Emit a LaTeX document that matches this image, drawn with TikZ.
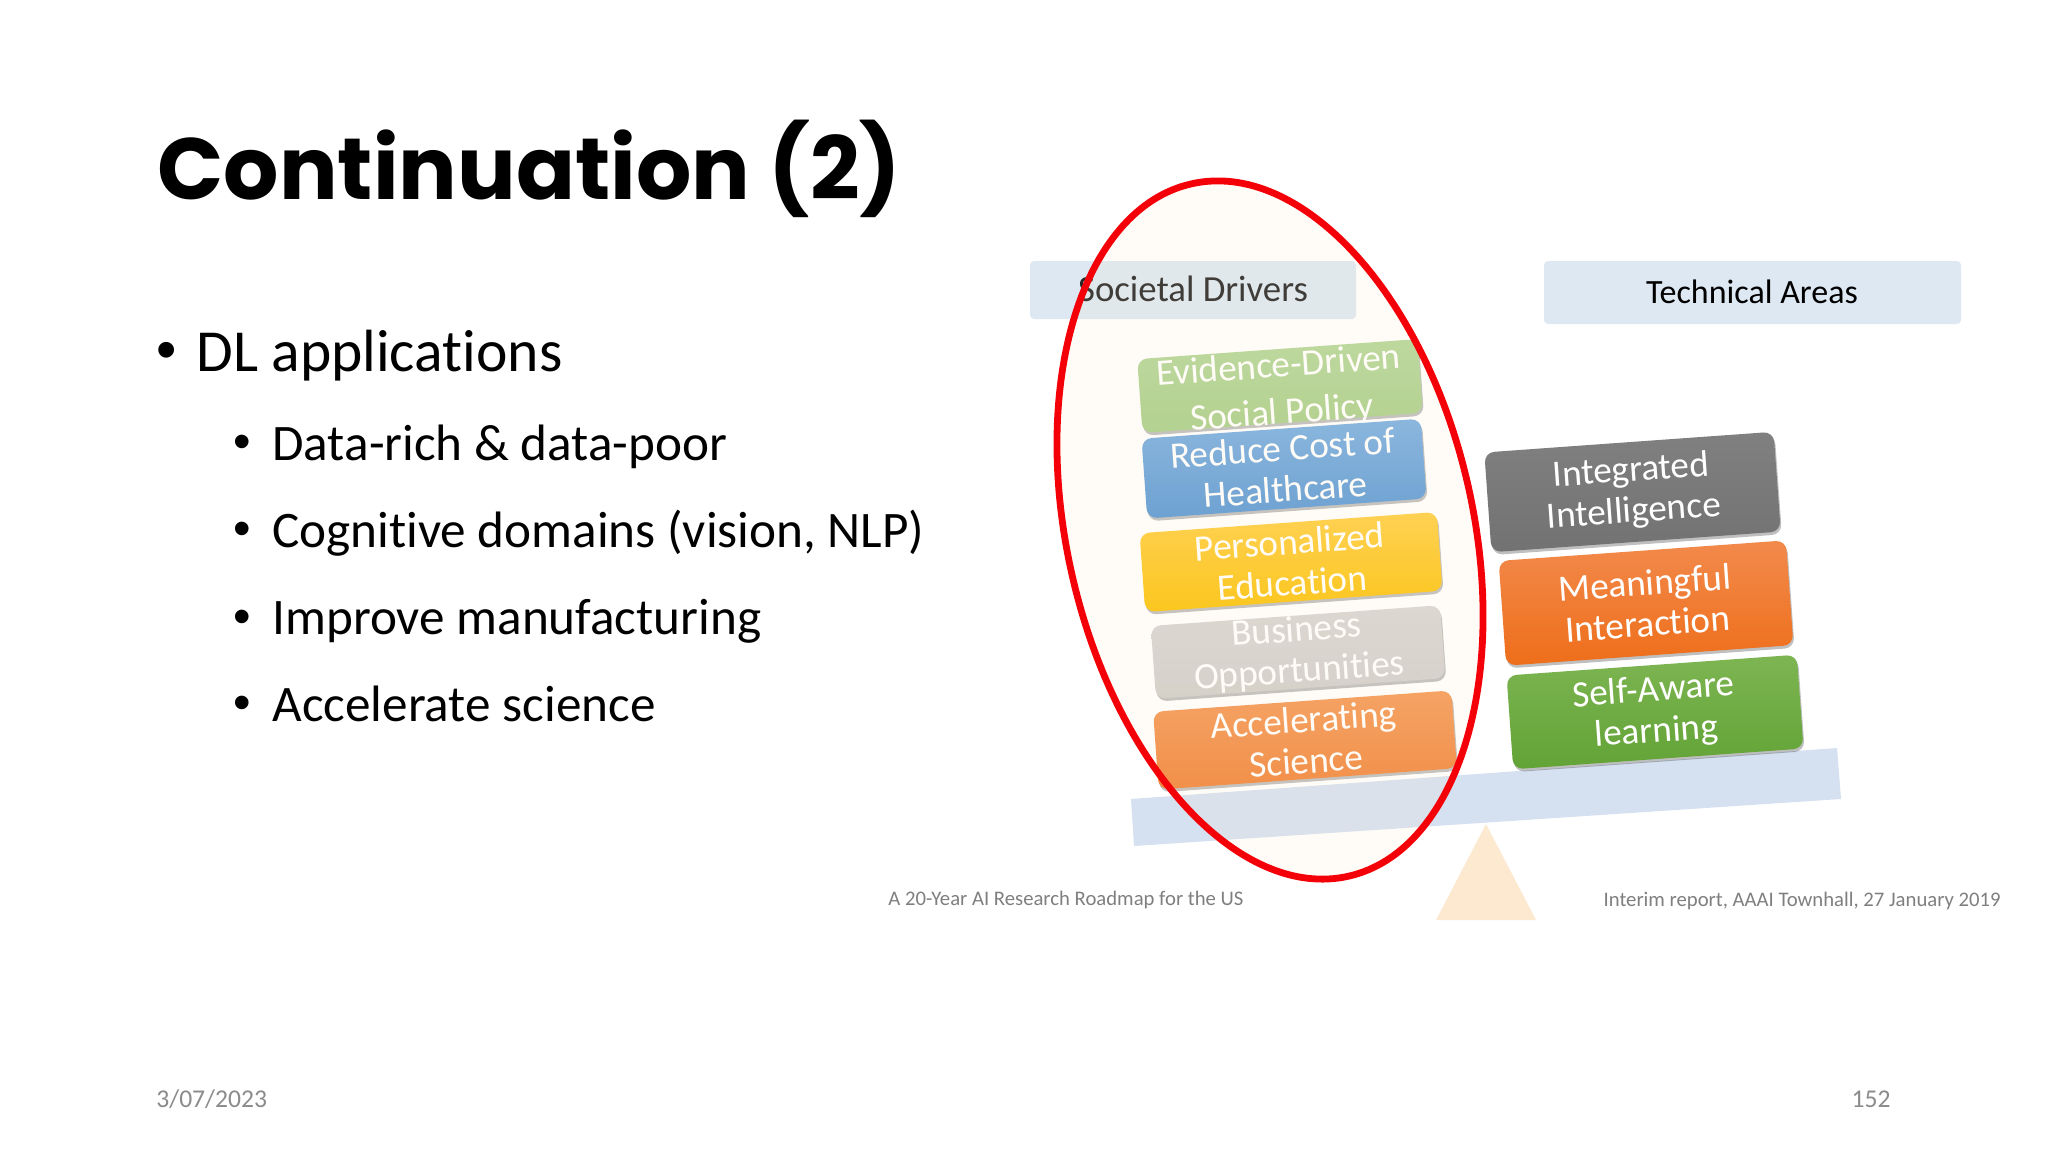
\documentclass[tikz,border=0pt]{standalone}
\usepackage{fontspec}
\setmainfont{Carlito}[Ligatures=CommonOff]
\newfontfamily\titlefont{Poppins}[UprightFont=* Bold,BoldFont=* Bold]
\newfontfamily\bulletfont{Liberation Sans}
\usetikzlibrary{shapes.geometric,shadows}
\definecolor{hdrblue}{HTML}{DDE8F3}
\definecolor{plankblue}{HTML}{D5E1F0}
\definecolor{fulcrum}{HTML}{FDE9D0}
\definecolor{ringred}{HTML}{F40008}
\definecolor{ringfill}{HTML}{FFE8C0}
\definecolor{softgray}{HTML}{7F7F7F}
\definecolor{footgray}{HTML}{8B8B8B}
\definecolor{sAt}{HTML}{B5D69A}\definecolor{sAb}{HTML}{A9CF8A}
\definecolor{sBt}{HTML}{7BB0E2}\definecolor{sBb}{HTML}{5A98D4}
\definecolor{sCt}{HTML}{FFCE44}\definecolor{sCb}{HTML}{FBC208}
\definecolor{sDt}{HTML}{D8D6D4}\definecolor{sDb}{HTML}{D0CECB}
\definecolor{sEt}{HTML}{F49A58}\definecolor{sEb}{HTML}{F0843A}
\definecolor{rAt}{HTML}{808080}\definecolor{rAb}{HTML}{727272}
\definecolor{rBt}{HTML}{F28A4C}\definecolor{rBb}{HTML}{EE6E1A}
\definecolor{rCt}{HTML}{7DB552}\definecolor{rCb}{HTML}{62A336}
\tikzset{
  lvlone/.style={anchor=base west,inner sep=0,font=\fontsize{29.8}{36}\selectfont,text=black},
  lvltwo/.style={anchor=base west,inner sep=0,font=\fontsize{25.6}{30}\selectfont,text=black},
  bulone/.style={anchor=base,inner sep=0,font=\bulletfont\fontsize{29}{36}\selectfont,text=black},
  bultwo/.style={anchor=base,inner sep=0,font=\bulletfont\fontsize{25}{30}\selectfont,text=black},
  hdrtext/.style n args={2}{inner sep=0,font=\fontsize{#2}{20}\selectfont,text=#1},
  tile/.style n args={4}{rotate=4.1,rounded corners=5pt,inner sep=0,align=center,
     minimum width=#1*0.5pt,minimum height=#2*0.5pt,top color=#3,bottom color=#4,
     text=white,font=\fontsize{18.6}{20.5}\selectfont,
     drop shadow={shadow xshift=0.6pt,shadow yshift=-1.4pt,opacity=.25,fill=black}},
  note/.style={inner sep=0,font=\fontsize{10.35}{12}\selectfont,text=softgray},
  foot/.style={inner sep=0,font=\fontsize{12.8}{14}\selectfont,text=footgray},
}
\begin{document}
\begin{tikzpicture}[x=0.5pt,y=-0.5pt]
\useasboundingbox (0,0) rectangle (2048,1152);
\fill[white] (0,0) rectangle (2048,1152);
% title
\node[anchor=base west,inner sep=0,font=\titlefont\fontsize{43.5}{56}\selectfont] (title) at (157,199.5) {Continuation (2)};
% bullets
\node[bulone] (b0) at (167,369) {•};
\node[lvlone] (t0) at (196,371) {DL applications};
\node[bultwo] (b1) at (242,458.6) {•};
\node[lvltwo] (t1) at (272,460) {Data-rich \& data-poor};
\node[bultwo] (b2) at (242,545) {•};
\node[lvltwo] (t2) at (272,547) {Cognitive domains (vision, NLP)};
\node[bultwo] (b3) at (242,633) {•};
\node[lvltwo] (t3) at (272,634) {Improve manufacturing};
\node[bultwo] (b4) at (242,719.5) {•};
\node[lvltwo] (t4) at (272,721.5) {Accelerate science};
% headers
\fill[hdrblue,rounded corners=2pt] (1030,261) rectangle (1356,319);
\fill[hdrblue,rounded corners=2pt] (1544,261) rectangle (1961,324);
\node[hdrtext={black!85}{18.4}] (h1) at (1193,289) {Societal Drivers};
\node[hdrtext={black}{17}] (h2) at (1752,292) {Technical Areas};
% beam and fulcrum
\fill[plankblue] (1131,799) -- (1837,748) -- (1841,799) -- (1134,846) -- cycle;
\fill[fulcrum] (1486,824) -- (1536,920) -- (1436,920) -- cycle;
% left stack
\node[tile={281}{74}{sAt}{sAb}] (s1) at (1280,386) {\raisebox{-7.5pt}[0pt][0pt]{\begin{tabular}{@{}c@{}}Evidence-Driven\\[3pt]Social Policy\end{tabular}}};
\node[tile={280}{80}{sBt}{sBb}] (s2) at (1284,468.6) {Reduce Cost of\\Healthcare};
\node[tile={298}{79}{sCt}{sCb}] (s3) at (1291,562) {Personalized\\Education};
\node[tile={290}{73}{sDt}{sDb}] (s4) at (1298,652) {Business\\Opportunities};
\node[tile={299}{78}{sEt}{sEb}] (s5) at (1305,740) {Accelerating\\Science};
% right stack
\node[tile={290}{100}{rAt}{rAb}] (r1) at (1632.5,492) {Integrated\\Intelligence};
\node[tile={288}{105}{rBt}{rBb}] (r2) at (1646,603) {Meaningful\\Interaction};
\node[tile={291}{94}{rCt}{rCb}] (r3) at (1655,712) {Self-Aware\\learning};
% captions
\node[note,anchor=west] (c1) at (888,899.5) {A 20-Year AI Research Roadmap for the US};
\node[note,anchor=east] (c2) at (2001,900.5) {Interim report, AAAI Townhall, 27 January 2019};
% highlight ring
\node[ellipse,rotate=12.8,draw=ringred,line width=3.4pt,fill=ringfill,fill opacity=.12,draw opacity=1,
      inner sep=0,minimum width=203pt,minimum height=355pt] (ring) at (1270,530) {};
% footer
\node[foot,anchor=west] (d) at (156,1099) {3/07/2023};
\node[foot,anchor=east] (n) at (1891,1099) {152};
\end{tikzpicture}
\end{document}
